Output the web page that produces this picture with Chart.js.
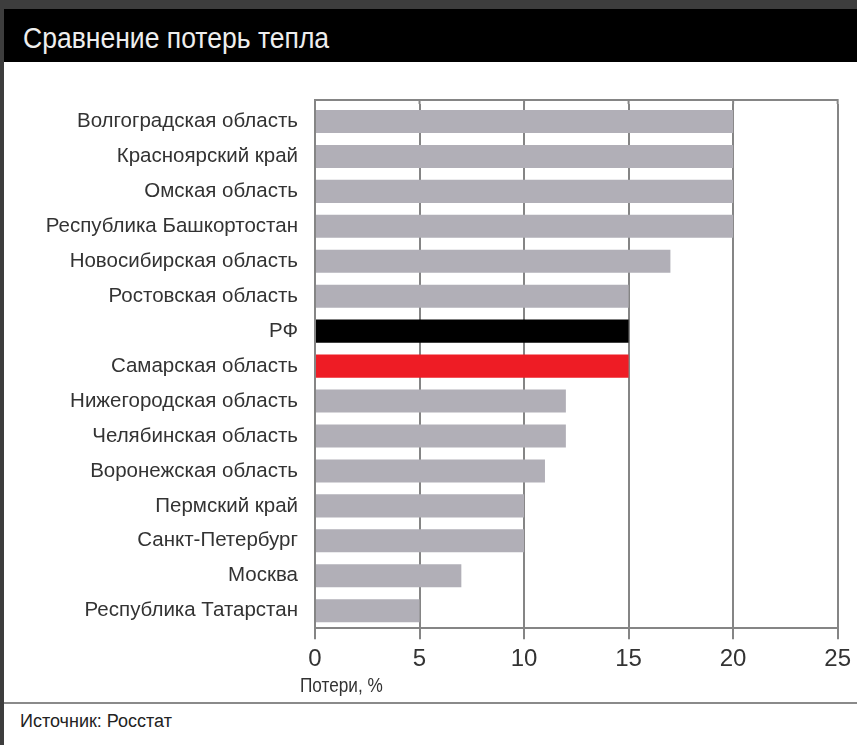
<!DOCTYPE html>
<html lang="ru">
<head>
<meta charset="utf-8">
<title>Сравнение потерь тепла</title>
<script src="https://cdn.jsdelivr.net/npm/chart.js@4/dist/chart.umd.min.js"></script>
<style>
    html, body { margin: 0; padding: 0; }
    body { width: 857px; height: 745px; background: #3d3d3d; position: relative; overflow: hidden;
           font-family: "Liberation Sans", Arial, sans-serif; }
    #header { position: absolute; left: 4px; top: 9px; width: 853px; height: 53px; background: #000; }
    #header h1 { margin: 0; position: absolute; left: 19px; top: 13px; font-size: 29px; font-weight: normal; color: #eee;
                 transform: scaleX(0.915); transform-origin: left center; white-space: nowrap; }
    #panel { position: absolute; left: 4px; top: 62px; width: 853px; height: 683px; background: #fff; }
    #chartBox { position: absolute; left: 0; top: 0; width: 853px; height: 640px; }
    #axisTitle { position: absolute; left: 296px; top: 612px; font-size: 20px; color: #333;
                 transform: scaleX(0.86); transform-origin: left center; white-space: nowrap; }
    #rule { position: absolute; left: 0; top: 640px; width: 853px; height: 2px; background: #8a8a8a; }
    #source { position: absolute; left: 16px; top: 649px; font-size: 18px; color: #222; }
</style>
</head>
<body>
<div id="header"><h1>Сравнение потерь тепла</h1></div>
<div id="panel">
    <div id="chartBox"><canvas id="heatChart"></canvas></div>
    <div id="axisTitle">Потери, %</div>
    <div id="rule"></div>
    <div id="source">Источник: Росстат</div>
</div>
<script>
// Данные с картинки
const regions = [
    'Волгоградская область',
    'Красноярский край',
    'Омская область',
    'Республика Башкортостан',
    'Новосибирская область',
    'Ростовская область',
    'РФ',
    'Самарская область',
    'Нижегородская область',
    'Челябинская область',
    'Воронежская область',
    'Пермский край',
    'Санкт-Петербург',
    'Москва',
    'Республика Татарстан'
];
const losses = [20, 20, 20, 20, 17, 15, 15, 15, 12, 12, 11, 10, 10, 7, 5];
const xTicks = [0, 5, 10, 15, 20, 25];

const GRAY = '#b1afb7';
const GRID = '#858585';
const FONT = '"Liberation Sans", Arial, sans-serif';

// цвет столбца: РФ — чёрный, Самара — красный
const barColors = regions.map(r => {
    if (r === 'РФ') return '#000000';
    if (r === 'Самарская область') return '#ee1c25';
    return GRAY;
});

// верхняя линия рамки чуть выше области столбцов + продолжение сетки до неё
const topBorder = {
    id: 'topBorder',
    beforeDatasetsDraw(chart) {
        const { ctx, chartArea, scales } = chart;
        const y0 = chartArea.top - 4;
        ctx.save();
        ctx.strokeStyle = GRID;
        ctx.lineWidth = 2;
        ctx.beginPath();
        xTicks.forEach(v => {
            const x = scales.x.getPixelForValue(v);
            ctx.moveTo(x, y0);
            ctx.lineTo(x, chartArea.top);
        });
        ctx.moveTo(chartArea.left - 1, y0);
        ctx.lineTo(chartArea.right + 1, y0);
        ctx.stroke();
        ctx.restore();
    }
};

new Chart(document.getElementById('heatChart'), {
    type: 'bar',
    data: {
        labels: regions,
        datasets: [{
            data: losses,
            backgroundColor: barColors,
            borderWidth: 0,
            barPercentage: 0.66,
            categoryPercentage: 1
        }]
    },
    options: {
        indexAxis: 'y',
        responsive: true,
        maintainAspectRatio: false,
        animation: false,
        layout: { padding: { top: 42, right: 15, bottom: 22, left: 0 } },
        plugins: {
            legend: { display: false },
            tooltip: { enabled: false }
        },
        scales: {
            x: {
                min: 0,
                max: 25,
                afterBuildTicks: axis => { axis.ticks = xTicks.map(v => ({ value: v })); },
                grid: { color: GRID, lineWidth: 2, tickLength: 11, drawTicks: true },
                border: { color: GRID, width: 2 },
                ticks: {
                    color: '#333',
                    padding: 6,
                    font: { family: FONT, size: 24 }
                }
            },
            y: {
                afterFit: axis => { axis.width = 311; },
                grid: { display: false, drawTicks: false },
                border: { color: GRID, width: 2 },
                ticks: {
                    color: '#333',
                    padding: 17,
                    autoSkip: false,
                    font: { family: FONT, size: 20.5 }
                }
            }
        }
    },
    plugins: [topBorder]
});
</script>
</body>
</html>
